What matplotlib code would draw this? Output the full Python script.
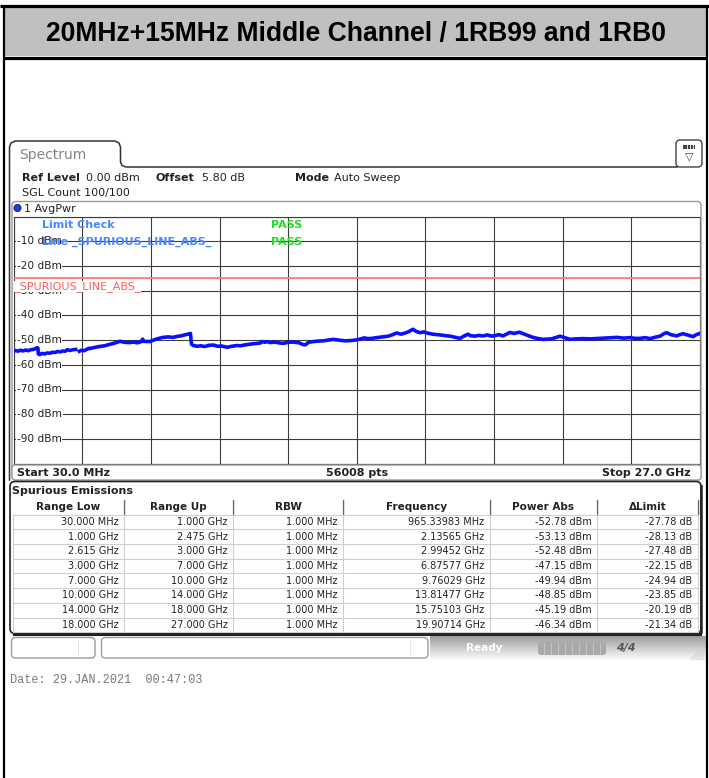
import numpy as np
import matplotlib
matplotlib.use("Agg")
import matplotlib.pyplot as plt
import matplotlib.transforms as mtransforms
from matplotlib.patches import FancyBboxPatch, Rectangle, Circle

W, H = 709, 778

# ---------------------------------------------------------------- data
title = "20MHz+15MHz Middle Channel / 1RB99 and 1RB0"

f_start, f_stop = 0.03, 27.0          # GHz
ref_level, level_bottom = 0, -100     # dBm
limit_dbm = -25.0
y_label_levels = [-10, -20, -30, -40, -50, -60, -70, -80, -90]

# trace (GHz, dBm); NaN marks the excluded band 2.475-2.615 GHz
trace_f = [
    0.03, 0.10, 0.20, 0.30, 0.40, 0.50, 0.60, 0.70, 0.80, 0.90, 0.965, 0.99,
    1.0, 1.06, 1.15, 1.25, 1.35, 1.46, 1.56, 1.66, 1.76, 1.86, 1.96, 2.06, 2.14, 2.25, 2.35, 2.47,
    np.nan,
    2.615, 2.70, 2.80, 2.90, 2.99,
    3.03, 3.20, 3.40, 3.60, 3.82, 4.00, 4.21, 4.40, 4.60, 4.72, 4.90, 5.05, 5.10, 5.14, 5.39,
    5.55, 5.70, 5.90, 6.10, 6.30, 6.45, 6.60, 6.75, 6.88, 6.98,
    7.02, 7.10, 7.25, 7.37, 7.55, 7.70, 7.88, 8.05, 8.20, 8.43, 8.60, 8.80, 8.94, 9.15, 9.35,
    9.55, 9.72, 9.78, 9.90, 9.98,
    10.10, 10.30, 10.50, 10.63, 10.80, 11.02, 11.25, 11.40, 11.50, 11.62, 11.80, 12.00, 12.20,
    12.40, 12.58, 12.80, 13.05, 13.25, 13.45, 13.64, 13.81, 13.95,
    14.10, 14.30, 14.54, 14.75, 14.90, 15.08, 15.25, 15.37, 15.55, 15.72, 15.85, 16.00, 16.15,
    16.26, 16.50, 16.78, 17.00, 17.18, 17.40, 17.57, 17.72, 17.88, 17.98,
    18.16, 18.30, 18.47, 18.65, 18.80, 18.94, 19.10, 19.26, 19.40, 19.53, 19.70, 19.90, 20.05,
    20.25, 20.44, 20.65, 20.83, 21.00, 21.17, 21.35, 21.50, 21.65, 21.89, 22.10, 22.40, 22.70,
    23.07, 23.40, 23.74, 24.00, 24.25, 24.45, 24.64, 24.85, 25.04, 25.25, 25.43, 25.60, 25.70,
    25.85, 26.00, 26.09, 26.20, 26.33, 26.50, 26.60, 26.73, 26.85, 27.00,
]
trace_p = [
    -54.6, -54.2, -54.5, -54.1, -54.4, -54.0, -54.3, -53.9, -53.8, -53.4, -53.0, -53.4,
    -55.6, -55.9, -55.4, -55.6, -55.2, -55.3, -54.9, -55.0, -54.6, -54.8, -54.4, -54.5, -53.9, -54.2, -53.9, -53.8,
    np.nan,
    -54.5, -54.1, -54.3, -53.8, -53.3,
    -53.4, -53.0, -52.6, -52.3, -51.7, -51.2, -50.5, -50.9, -51.0, -50.8, -51.1, -50.6, -49.6, -50.5, -50.6,
    -49.9, -49.4, -48.9, -48.7, -48.9, -48.5, -48.3, -47.9, -47.6, -47.3,
    -51.7, -52.2, -52.5, -52.3, -52.6, -52.1, -52.0, -52.5, -52.4, -52.9, -52.5, -52.2, -52.3, -51.9, -51.6,
    -51.4, -51.2, -50.6, -50.9, -50.6,
    -51.0, -50.8, -51.2, -51.3, -50.9, -50.8, -51.1, -51.8, -51.9, -50.9, -50.6, -50.4, -50.3,
    -50.0, -49.7, -50.0, -50.3, -50.2, -50.0, -49.6, -49.1, -49.4,
    -49.3, -49.0, -48.7, -48.4, -47.9, -47.1, -47.6, -47.3, -46.6, -45.6, -46.5, -47.0, -46.7,
    -47.1, -47.6, -47.9, -48.2, -48.4, -48.9, -49.3, -48.4, -47.6, -48.2,
    -48.4, -48.1, -48.3, -47.9, -48.4, -48.2, -47.8, -48.3, -47.6, -46.9, -47.3, -46.8, -47.4,
    -48.2, -48.9, -49.4, -49.7, -49.6, -49.5, -48.9, -48.4, -48.9, -49.7, -49.5, -49.4, -49.5,
    -49.3, -49.1, -48.9, -49.2, -49.0, -49.3, -49.3, -49.0, -49.4, -48.8, -48.4, -47.3, -47.0,
    -47.8, -48.1, -48.3, -47.8, -47.4, -47.9, -48.2, -48.6, -47.8, -47.3,
]

table_headers = ["Range Low", "Range Up", "RBW", "Frequency", "Power Abs", "\u0394Limit"]
range_low = ["30.000 MHz", "1.000 GHz", "2.615 GHz", "3.000 GHz",
             "7.000 GHz", "10.000 GHz", "14.000 GHz", "18.000 GHz"]
range_up = ["1.000 GHz", "2.475 GHz", "3.000 GHz", "7.000 GHz",
            "10.000 GHz", "14.000 GHz", "18.000 GHz", "27.000 GHz"]
rbw = ["1.000 MHz"] * 8
peak_freq = ["965.33983 MHz", "2.13565 GHz", "2.99452 GHz", "6.87577 GHz",
             "9.76029 GHz", "13.81477 GHz", "15.75103 GHz", "19.90714 GHz"]
power_abs = ["-52.78 dBm", "-53.13 dBm", "-52.48 dBm", "-47.15 dBm",
             "-49.94 dBm", "-48.85 dBm", "-45.19 dBm", "-46.34 dBm"]
delta_limit = ["-27.78 dB", "-28.13 dB", "-27.48 dB", "-22.15 dB",
               "-24.94 dB", "-23.85 dB", "-20.19 dB", "-21.34 dB"]

date_text = "Date: 29.JAN.2021  00:47:03"

# ---------------------------------------------------------------- figure
plt.rcParams["font.family"] = ["DejaVu Sans"]
fig = plt.figure(figsize=(W / 100, H / 100), dpi=100)
fig.patch.set_facecolor("white")

# spectrum grid (pixel box 13.6..700 x 216.6..463.6)
gx0, gx1, gy0, gy1 = 13.6, 700.0, 216.6, 463.6
ax = fig.add_axes([gx0 / W, 1 - gy1 / H, (gx1 - gx0) / W, (gy1 - gy0) / H], zorder=1)
ax.set_xlim(f_start, f_stop)
ax.set_ylim(level_bottom, ref_level)
ax.set_xticks(np.linspace(f_start, f_stop, 11))
ax.set_yticks(np.arange(level_bottom, ref_level + 1, 10))
ax.tick_params(length=0, labelbottom=False, labelleft=False)
ax.grid(True, color="#3c3c3c", linewidth=0.8)
for s in ax.spines.values():
    s.set_color("#3c3c3c")
    s.set_linewidth(0.8)
ax.axhline(limit_dbm, color="#ff7878", linewidth=1.3, zorder=3)
ax.plot(trace_f, trace_p, color="#0a10ff", linewidth=2.6, solid_joinstyle="round", zorder=4)

# overlay in pixel coordinates
ov = fig.add_axes([0, 0, 1, 1], zorder=3)
ov.set_xlim(0, W)
ov.set_ylim(H, 0)
ov.axis("off")
lvl_tr = mtransforms.blended_transform_factory(ov.transData, ax.transData)

DARK = "#222222"


def rbox(x0, y0, x1, y1, r=4, ec="#888888", fc="none", lw=1.0, z=1):
    p = FancyBboxPatch((x0, y0), x1 - x0, y1 - y0,
                       boxstyle=f"round,pad=0,rounding_size={r}",
                       ec=ec, fc=fc, lw=lw, zorder=z)
    ov.add_patch(p)


# --- outer frame + title bar
ov.add_patch(Rectangle((4, 7), 702, 49, fc="#c0c0c0", ec="none", zorder=0))
ov.plot([0, W], [5.5, 5.5], color="black", lw=2.3, solid_capstyle="butt")
ov.plot([4, 706], [57.5, 57.5], color="black", lw=2.3, solid_capstyle="butt")
ov.plot([3.8, 3.8], [5, H], color="black", lw=1.6, solid_capstyle="butt")
ov.plot([706.5, 706.5], [5, H], color="black", lw=1.6, solid_capstyle="butt")
ov.text(355.5, 40.5, title, ha="center", va="baseline", fontsize=19.1,
        fontweight="bold", family="Liberation Sans", color="black")

# --- "Spectrum" tab and window outline
tab_x = [9.5, 9.5, 11, 15, 115, 119, 120.5, 120.5, 122, 126, 677]
tab_y = [480, 147, 143, 141, 141, 143, 147, 162, 165.5, 167, 167]
ov.plot(tab_x, tab_y, color="#333333", lw=1.1)
ov.text(19, 155, "Spectrum", fontsize=10, color="#858585", va="center")
rbox(676, 140, 702, 167, r=4, ec="#444444", lw=1.0)
ov.add_patch(Rectangle((683, 144.5), 12, 4.5, fc="#444444", ec="none", zorder=2))
for xx in (686.5, 689.5, 692.5):
    ov.plot([xx, xx], [145, 148.5], color="white", lw=0.6)
ov.text(689, 156, "\u25bd", fontsize=8, ha="center", va="center", color="#444444")

# info lines
ov.text(21.5, 177.5, "Ref Level", fontsize=8, fontweight="bold", color=DARK, va="center")
ov.text(86, 177.5, "0.00 dBm", fontsize=8, color=DARK, va="center")
ov.text(155.5, 177.5, "Offset", fontsize=8, fontweight="bold", color=DARK, va="center")
ov.text(201.5, 177.5, "5.80 dB", fontsize=8, color=DARK, va="center")
ov.text(295.5, 177.5, "Mode", fontsize=8, fontweight="bold", color=DARK, va="center")
ov.text(334.5, 177.5, "Auto Sweep", fontsize=8, color=DARK, va="center")
ov.text(21.5, 192.5, "SGL Count 100/100", fontsize=8, color=DARK, va="center")

# trace panel
rbox(12, 201.5, 701, 480, r=4, ec="#9a9a9a", lw=1.0, z=0)
ov.add_patch(Circle((17.5, 208), 3.6, fc="#1a3fd8", ec="#0a1f80", lw=0.6, zorder=2))
ov.text(24, 208.5, "1 AvgPwr", fontsize=8, color=DARK, va="center")

for lvl in y_label_levels:
    ov.text(17, lvl, f"{lvl} dBm", transform=lvl_tr, fontsize=7.6, color=DARK,
            va="center", bbox=dict(fc="white", ec="none", pad=0.4), zorder=2)

ov.text(41.7, 224.5, "Limit Check", fontsize=8, fontweight="bold", color="#4a86ff",
        va="center", zorder=3)
ov.text(270.7, 224.5, "PASS", fontsize=8, fontweight="bold", color="#22dd22",
        va="center", zorder=3)
ov.text(41.7, 241.5, "Line _SPURIOUS_LINE_ABS_", fontsize=8, fontweight="bold",
        color="#4a86ff", va="center", zorder=3)
ov.text(270.7, 241.5, "PASS", fontsize=8, fontweight="bold", color="#22dd22",
        va="center", zorder=3)
ov.text(14.5, 286.5, "_SPURIOUS_LINE_ABS_", fontsize=8, color="#ff5a5a", va="center",
        bbox=dict(fc="white", ec="none", pad=0.3), zorder=3)

# start / stop bar
rbox(12, 465, 701, 480, r=3, ec="#9a9a9a", fc="white", lw=1.0, z=1)
ov.text(17, 473, f"Start {f_start * 1000:.1f} MHz", fontsize=8, fontweight="bold",
        color=DARK, va="center", zorder=2)
ov.text(357, 473, "56008 pts", fontsize=8, fontweight="bold", color=DARK,
        ha="center", va="center", zorder=2)
ov.text(691, 473, f"Stop {f_stop:.1f} GHz", fontsize=8, fontweight="bold", color=DARK,
        ha="right", va="center", zorder=2)

# --- spurious emissions table
rbox(10, 481.5, 701, 633.5, r=5, ec="#222222", fc="white", lw=1.2, z=1)
ov.plot([14, 700], [633.5, 633.5], color="#222222", lw=2.2, zorder=2)
ov.plot([700.5, 700.5], [486, 632], color="#222222", lw=1.8, zorder=2)
ov.text(12.5, 490.5, "Spurious Emissions", fontsize=8, fontweight="bold", color=DARK,
        va="center", zorder=3)

cols = [13, 124, 233, 343, 490, 597, 698]
row_top, row_h = 514.5, 14.72
head_y = 507
for i, name in enumerate(table_headers):
    ov.text((cols[i] + cols[i + 1]) / 2, head_y, name, fontsize=7.5, fontweight="bold",
            color=DARK, ha="center", va="center", zorder=3)
for xc in cols[1:]:
    ov.plot([xc, xc], [500, 514], color="#666666", lw=0.9, zorder=2)
    ov.plot([xc + 1.2, xc + 1.2], [500, 514], color="#dddddd", lw=0.7, zorder=2)

n_rows = len(range_low)
for r in range(n_rows + 1):
    yy = row_top + r * row_h
    ov.plot([cols[0], cols[-1]], [yy, yy], color="#cfcfcf", lw=0.8, zorder=2)
for xc in cols:
    ov.plot([xc, xc], [row_top, row_top + n_rows * row_h], color="#cfcfcf", lw=0.8, zorder=2)

columns = [range_low, range_up, rbw, peak_freq, power_abs, delta_limit]
for c, values in enumerate(columns):
    for r, val in enumerate(values):
        ov.text(cols[c + 1] - 5.5, row_top + (r + 0.5) * row_h, val, fontsize=7,
                color=DARK, ha="right", va="center", zorder=3)

# --- status bar
grad = np.linspace(0.62, 1.0, 24).reshape(-1, 1)
ov.imshow(grad, extent=(430, 706, 661, 636), cmap="gray", vmin=0, vmax=1,
          aspect="auto", zorder=0, interpolation="bilinear")
rbox(11.5, 637.5, 95, 658, r=4, ec="#9a9a9a", fc="white", lw=1.0, z=1)
ov.plot([78, 78], [641, 654], color="#e0e0e0", lw=0.8)
rbox(101.5, 637.5, 428, 658, r=4, ec="#9a9a9a", fc="white", lw=1.0, z=1)
ov.plot([410, 410], [641, 654], color="#e0e0e0", lw=0.8)
ov.text(484, 648, "Ready", fontsize=7.5, fontweight="bold", color="white",
        ha="center", va="center")
rbox(538, 641.5, 606, 655, r=3, ec="none", fc="#a9a9a9", z=1)
for xx in np.arange(544, 604, 7):
    ov.plot([xx, xx], [643, 653.5], color="#c4c4c4", lw=0.8, zorder=2)
ov.text(626, 648, "4/4", fontsize=8, fontweight="bold", style="italic", color="#555555",
        ha="center", va="center")
for k in range(5):
    ov.plot([690 + 3 * k, 704], [660, 646 + 3 * k], color="#cccccc", lw=0.6)

ov.text(10, 680, date_text, fontsize=8.6, family="Liberation Mono", color="#7a7a7a",
        va="center")

ov.set_xlim(0, W)
ov.set_ylim(H, 0)

fig.savefig("out.png", dpi=100)
plt.close(fig)
